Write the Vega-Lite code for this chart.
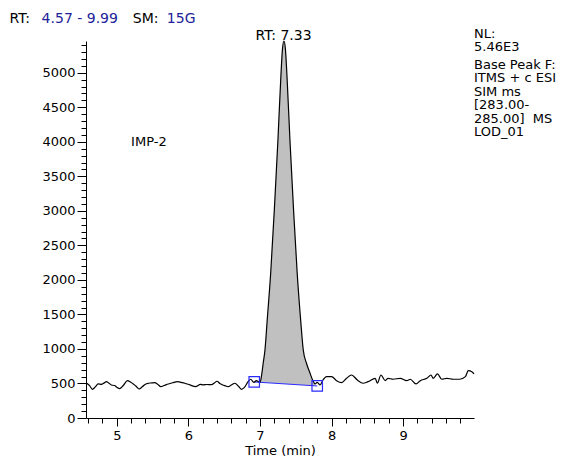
{
  "$schema": "https://vega.github.io/schema/vega-lite/v6.json",
  "width": 388,
  "height": 377,
  "autosize": {"type": "none"},
  "padding": {"left": 86, "top": 41, "right": 100, "bottom": 39},
  "background": "white",
  "config": {
    "view": {"stroke": null},
    "font": "DejaVu Sans",
    "axis": {
      "labelFont": "DejaVu Sans", "labelFontSize": 13, "labelColor": "black",
      "domainColor": "black", "tickColor": "black", "grid": false,
      "titleFont": "DejaVu Sans", "titleFontSize": 13, "titleFontWeight": "normal", "titleColor": "black",
      "domainWidth": 1, "tickWidth": 1
    },
    "text": {"font": "DejaVu Sans", "fontSize": 13}
  },
  "datasets": {
    "trace": [
      {"t": 4.57, "i": 512}, {"t": 4.62, "i": 470}, {"t": 4.66, "i": 416}, {"t": 4.70, "i": 450},
      {"t": 4.74, "i": 493}, {"t": 4.785, "i": 488}, {"t": 4.82, "i": 505}, {"t": 4.855, "i": 526},
      {"t": 4.89, "i": 505}, {"t": 4.925, "i": 478}, {"t": 4.97, "i": 470}, {"t": 5.00, "i": 445},
      {"t": 5.04, "i": 425}, {"t": 5.09, "i": 470}, {"t": 5.15, "i": 541}, {"t": 5.19, "i": 520},
      {"t": 5.23, "i": 493}, {"t": 5.27, "i": 460}, {"t": 5.31, "i": 420}, {"t": 5.36, "i": 455},
      {"t": 5.40, "i": 490}, {"t": 5.44, "i": 503}, {"t": 5.49, "i": 508}, {"t": 5.53, "i": 512},
      {"t": 5.57, "i": 490}, {"t": 5.615, "i": 454}, {"t": 5.66, "i": 470}, {"t": 5.72, "i": 493},
      {"t": 5.78, "i": 510}, {"t": 5.85, "i": 526}, {"t": 5.90, "i": 515}, {"t": 5.95, "i": 503},
      {"t": 6.02, "i": 480}, {"t": 6.10, "i": 454}, {"t": 6.17, "i": 488}, {"t": 6.21, "i": 480},
      {"t": 6.255, "i": 485}, {"t": 6.325, "i": 484}, {"t": 6.36, "i": 505}, {"t": 6.40, "i": 532},
      {"t": 6.44, "i": 500}, {"t": 6.48, "i": 478}, {"t": 6.52, "i": 465}, {"t": 6.555, "i": 454},
      {"t": 6.60, "i": 478}, {"t": 6.65, "i": 503}, {"t": 6.70, "i": 460}, {"t": 6.745, "i": 416},
      {"t": 6.78, "i": 440}, {"t": 6.835, "i": 526}, {"t": 6.87, "i": 561}, {"t": 6.915, "i": 517},
      {"t": 6.95, "i": 541}, {"t": 6.98, "i": 525},
      {"t": 7.00, "i": 517, "base": 516.7}, {"t": 7.02, "i": 599, "base": 515.4},
      {"t": 7.045, "i": 793, "base": 513.8}, {"t": 7.07, "i": 985, "base": 512.1},
      {"t": 7.10, "i": 1400, "base": 510.1}, {"t": 7.15, "i": 2100, "base": 506.8},
      {"t": 7.20, "i": 3000, "base": 503.5}, {"t": 7.25, "i": 4000, "base": 500.3},
      {"t": 7.29, "i": 4900, "base": 497.6}, {"t": 7.315, "i": 5350, "base": 496.0},
      {"t": 7.335, "i": 5460, "base": 494.7}, {"t": 7.355, "i": 5350, "base": 493.3},
      {"t": 7.38, "i": 4900, "base": 491.7}, {"t": 7.42, "i": 4000, "base": 489.1},
      {"t": 7.47, "i": 3000, "base": 485.8}, {"t": 7.52, "i": 2100, "base": 482.5},
      {"t": 7.57, "i": 1400, "base": 479.2}, {"t": 7.605, "i": 985, "base": 476.9},
      {"t": 7.65, "i": 793, "base": 473.9}, {"t": 7.70, "i": 648, "base": 470.6},
      {"t": 7.735, "i": 551, "base": 468.3}, {"t": 7.77, "i": 493, "base": 466.0},
      {"t": 7.80, "i": 517}, {"t": 7.84, "i": 478}, {"t": 7.88, "i": 551}, {"t": 7.93, "i": 600},
      {"t": 8.00, "i": 600}, {"t": 8.07, "i": 541}, {"t": 8.14, "i": 512}, {"t": 8.21, "i": 575},
      {"t": 8.28, "i": 623}, {"t": 8.36, "i": 551}, {"t": 8.44, "i": 503}, {"t": 8.51, "i": 526},
      {"t": 8.61, "i": 575}, {"t": 8.64, "i": 503}, {"t": 8.69, "i": 623}, {"t": 8.75, "i": 541},
      {"t": 8.79, "i": 575}, {"t": 8.86, "i": 561}, {"t": 8.96, "i": 575}, {"t": 9.05, "i": 541},
      {"t": 9.10, "i": 561}, {"t": 9.18, "i": 493}, {"t": 9.24, "i": 541}, {"t": 9.33, "i": 575},
      {"t": 9.39, "i": 623}, {"t": 9.42, "i": 575}, {"t": 9.48, "i": 638}, {"t": 9.54, "i": 561},
      {"t": 9.61, "i": 575}, {"t": 9.70, "i": 561}, {"t": 9.79, "i": 561}, {"t": 9.87, "i": 599},
      {"t": 9.91, "i": 686}, {"t": 9.96, "i": 671}, {"t": 9.99, "i": 638}
    ],
    "baseline": [
      {"t": 6.92, "i": 522},
      {"t": 7.80, "i": 464}
    ],
    "header": [
      {"t": 3.503, "i": 5779, "label": "RT:", "part": "k"},
      {"t": 3.95, "i": 5779, "label": "4.57 - 9.99", "part": "v"},
      {"t": 5.223, "i": 5779, "label": "SM:", "part": "k"},
      {"t": 5.699, "i": 5779, "label": "15G", "part": "v"}
    ],
    "notes": [
      {"t": 5.2, "i": 3997, "label": "IMP-2"}
    ],
    "info": [
      {"t": 9.99, "i": 5508, "label": "NL:\n5.46E3"},
      {"t": 9.99, "i": 5059, "label": "Base Peak F:\nITMS + c ESI\nSIM ms\n[283.00-\n285.00]\u00a0\u00a0MS\nLOD_01"}
    ],
    "peaklabel": [
      {"t": 7.33, "i": 5532, "label": "RT: 7.33"}
    ]
  },
  "layer": [
    {
      "data": {"name": "trace"},
      "transform": [{"filter": "isValid(datum.base)"}],
      "mark": {"type": "area", "color": "#c0c0c0", "interpolate": "monotone", "opacity": 1},
      "encoding": {
        "x": {
          "field": "t", "type": "quantitative",
          "scale": {"domain": [4.57, 9.99], "nice": false, "zero": false},
          "axis": {
            "title": "Time (min)",
            "values": [4.6, 4.8, 5, 5.2, 5.4, 5.6, 5.8, 6, 6.2, 6.4, 6.6, 6.8, 7, 7.2, 7.4, 7.6, 7.8, 8, 8.2, 8.4, 8.6, 8.8, 9, 9.2, 9.4, 9.6, 9.8],
            "tickCount": 200,
            "labelExpr": "abs(datum.value - round(datum.value)) < 0.001 ? format(datum.value, 'd') : ''",
            "tickSize": {"condition": {"test": "abs(datum.value - round(datum.value)) < 0.001", "value": 8}, "value": 5},
            "labelOverlap": false, "labelFlush": false, "labelPadding": 3, "titlePadding": 2
          }
        },
        "y": {
          "field": "i", "type": "quantitative",
          "scale": {"domain": [0, 5460], "nice": false},
          "axis": {
            "title": null,
            "values": [0,100,200,300,400,500,600,700,800,900,1000,1100,1200,1300,1400,1500,1600,1700,1800,1900,2000,2100,2200,2300,2400,2500,2600,2700,2800,2900,3000,3100,3200,3300,3400,3500,3600,3700,3800,3900,4000,4100,4200,4300,4400,4500,4600,4700,4800,4900,5000,5100,5200,5300,5400],
            "tickCount": 200,
            "labelExpr": "datum.value % 500 === 0 ? format(datum.value, 'd') : ''",
            "tickSize": {"condition": {"test": "datum.value % 500 === 0", "value": 9}, "value": 5},
            "labelOverlap": false, "labelFlush": false, "labelPadding": 2
          }
        },
        "y2": {"field": "base"}
      }
    },
    {
      "data": {"name": "baseline"},
      "mark": {"type": "line", "color": "#2a2aff", "strokeWidth": 1},
      "encoding": {
        "x": {"field": "t", "type": "quantitative"},
        "y": {"field": "i", "type": "quantitative"}
      }
    },
    {
      "data": {"name": "trace"},
      "mark": {"type": "line", "color": "black", "strokeWidth": 1.2, "interpolate": "monotone"},
      "encoding": {
        "x": {"field": "t", "type": "quantitative"},
        "y": {"field": "i", "type": "quantitative"}
      }
    },
    {
      "data": {"name": "baseline"},
      "mark": {"type": "point", "shape": "square", "filled": false, "color": "#2a2aff", "size": 110, "strokeWidth": 1.2, "opacity": 1},
      "encoding": {
        "x": {"field": "t", "type": "quantitative"},
        "y": {"field": "i", "type": "quantitative"}
      }
    },
    {
      "data": {"name": "header"},
      "mark": {"type": "text", "align": "left", "baseline": "middle", "font": "DejaVu Sans", "fontSize": 14},
      "encoding": {
        "x": {"field": "t", "type": "quantitative"},
        "y": {"field": "i", "type": "quantitative"},
        "text": {"field": "label"},
        "color": {"field": "part", "type": "nominal", "scale": {"domain": ["k", "v"], "range": ["black", "#22229a"]}, "legend": null}
      }
    },
    {
      "data": {"name": "notes"},
      "mark": {"type": "text", "align": "left", "baseline": "middle", "font": "DejaVu Sans", "fontSize": 13, "color": "black"},
      "encoding": {
        "x": {"field": "t", "type": "quantitative"},
        "y": {"field": "i", "type": "quantitative"},
        "text": {"field": "label"}
      }
    },
    {
      "data": {"name": "info"},
      "mark": {"type": "text", "align": "left", "baseline": "alphabetic", "font": "DejaVu Sans", "fontSize": 13, "color": "black", "lineBreak": "\n", "lineHeight": 13.5},
      "encoding": {
        "x": {"field": "t", "type": "quantitative"},
        "y": {"field": "i", "type": "quantitative"},
        "text": {"field": "label"}
      }
    },
    {
      "data": {"name": "peaklabel"},
      "mark": {"type": "text", "align": "center", "baseline": "middle", "font": "DejaVu Sans", "fontSize": 14, "color": "black"},
      "encoding": {
        "x": {"field": "t", "type": "quantitative"},
        "y": {"field": "i", "type": "quantitative"},
        "text": {"field": "label"}
      }
    }
  ]
}
